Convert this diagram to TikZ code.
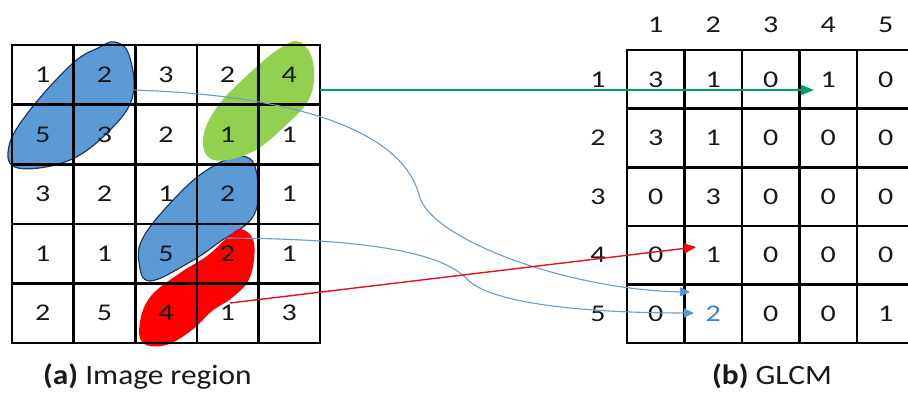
\documentclass[tikz,border=0pt]{standalone}
\usepackage{fontspec}
\usepackage{graphicx}
\setmainfont{Carlito}
\usetikzlibrary{arrows.meta}

\definecolor{blobblue}{RGB}{91,155,213}
\definecolor{blobedge}{RGB}{35,55,95}
\definecolor{blobgreen}{RGB}{146,208,80}
\definecolor{blobred}{RGB}{255,0,0}
\definecolor{numgray}{RGB}{25,25,25}
\definecolor{linkgreen}{RGB}{0,160,95}
\definecolor{linkred}{RGB}{225,20,30}
\definecolor{linkblue}{RGB}{110,155,200}
\definecolor{tipblue}{RGB}{85,150,215}
\definecolor{hilite}{RGB}{60,130,195}

% widened glyphs for the cell figures and captions
\newcommand{\hstretch}[2]{\scalebox{#1}[1]{#2}}

\tikzset{
  lcell/.style={draw=black, line width=2.6pt, minimum width=61.6pt,
    minimum height=59.6pt, inner sep=0pt, text=numgray,
    font=\fontsize{24}{28}\selectfont},
  rcell/.style={lcell, minimum width=57.5pt, minimum height=58.6pt},
  axislabel/.style={inner sep=0pt, text=numgray, font=\fontsize{24}{28}\selectfont},
  caption/.style={inner sep=0pt, anchor=base west, text=numgray,
    font=\fontsize{28}{32}\selectfont},
  blueblob/.style={fill=blobblue, draw=blobedge, line width=1.2pt},
  link/.style={line width=1.4pt},
}

\begin{document}
\begin{tikzpicture}[x=1pt, y=-1pt]
\useasboundingbox (0,0) rectangle (908,394);
\fill[white] (0,0) rectangle (908,394);

% highlighted neighbour pairs, under the grid
\draw[blueblob] plot[smooth cycle, tension=0.65] coordinates
  {(115,42) (129,55) (133,95) (112,128) (70,160) (18,168) (9,146) (30,110) (72,64) (98,48)};
\draw[blueblob] plot[smooth cycle, tension=0.65] coordinates
  {(240,156) (256,170) (254,215) (218,243) (190,262) (150,281) (139,262) (144,236) (176,197) (207,170)};
\fill[blobgreen] plot[smooth cycle, tension=0.65] coordinates
  {(300,42) (313,62) (310,97) (284,127) (250,153) (214,160) (203,140) (217,107) (253,70) (282,47)};
\fill[blobred] plot[smooth cycle, tension=0.65] coordinates
  {(241,229) (254,243) (250,277) (233,297) (212,311) (192,330) (166,345) (143,343) (140,322) (151,296) (180,273) (207,256) (227,238)};

% image region
\foreach \vals [count=\r] in {{1,2,3,2,4},{5,3,2,1,1},{3,2,1,2,1},{1,1,5,2,1},{2,5,4,1,3}}
  \foreach \v [count=\c] in \vals
    \node[lcell] (L-\r-\c) at ({12+61.6*(\c-0.5)},{45+59.6*(\r-0.5)}) {\hstretch{1.25}{\v}};

% co-occurrence matrix
\foreach \vals [count=\r] in {{3,1,0,1,0},{3,1,0,0,0},{0,3,0,0,0},{0,1,0,0,0},{0,{\color{hilite}2},0,0,1}}
  \foreach \v [count=\c] in \vals
    \node[rcell] (R-\r-\c) at ({627+57.5*(\c-0.5)},{50+58.6*(\r-0.5)}) {\hstretch{1.25}{\v}};

\foreach \c in {1,...,5}
  \node[axislabel] (H-\c) at ({627+57.5*(\c-0.5)},25) {\hstretch{1.25}{\c}};
\foreach \r in {1,...,5}
  \node[axislabel] (V-\r) at (598,{50+58.6*(\r-0.5)}) {\hstretch{1.25}{\r}};

% link end points
\coordinate (g0) at (320,90);
\coordinate (g1) at (814,90);
\coordinate (r0) at (230,303);
\coordinate (r1) at (696,247);
\coordinate (b0) at (133,90);
\coordinate (bm) at (419,195);
\coordinate (b1) at (690,292);
\coordinate (c0) at (227,238);
\coordinate (cm) at (468,280);
\coordinate (c1) at (694,313);

\draw[link, linkgreen, -{Triangle[length=13pt, width=10pt]}] (g0) -- (g1);
\draw[link, linkblue, line width=1.1pt, -{Triangle[length=10pt, width=9pt, color=tipblue]}]
  (b0) .. controls (320,96) and (405,140) .. (bm)
       .. controls (430,240) and (570,290) .. (b1);
\draw[link, linkblue, line width=1.1pt, -{Triangle[length=10pt, width=9pt, color=tipblue]}]
  (c0) .. controls (380,239) and (445,255) .. (cm)
       .. controls (495,306) and (600,313) .. (c1);
\draw[link, linkred, -{Triangle[length=12pt, width=10pt, color=blobred]}] (r0) -- (r1);

% captions
\node[caption] (capA) at (43,384) {\hstretch{1.12}{\textbf{(a)} Image region}};
\node[caption] (capB) at (712,384) {\hstretch{1.12}{\textbf{(b)} GLCM}};
\end{tikzpicture}
\end{document}
